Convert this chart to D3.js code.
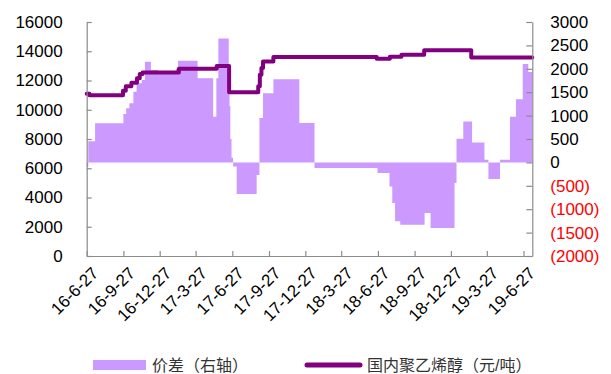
<!DOCTYPE html>
<html>
<head>
<meta charset="utf-8">
<script src="https://cdn.jsdelivr.net/npm/d3@7"></script>
<style>
  body { margin: 0; background: #fff; }
  svg { display: block; }
  text { font-family: "Liberation Sans", Arial, "Noto Sans CJK SC", sans-serif; }
</style>
</head>
<body>
<svg id="chart" width="611" height="374"></svg>
<script>
// Quarterly axis labels (yy-m-d)
const xTickLabels = ["16-6-27", "16-9-27", "16-12-27", "17-3-27", "17-6-27", "17-9-27",
  "17-12-27", "18-3-27", "18-6-27", "18-9-27", "18-12-27", "19-3-27", "19-6-27"];
const leftTicks = [0, 2000, 4000, 6000, 8000, 10000, 12000, 14000, 16000];
const rightTicks = [-2000, -1500, -1000, -500, 0, 500, 1000, 1500, 2000, 2500, 3000];

// 国内聚乙烯醇 (元/吨): price from each date until the next one
const priceDates = ["2016-06-27", "2016-07-04", "2016-09-26", "2016-10-03", "2016-10-17",
  "2016-10-31", "2016-11-07", "2016-11-14", "2017-02-13", "2017-05-19", "2017-06-19",
  "2017-08-31", "2017-09-04", "2017-09-08", "2017-09-12", "2017-10-08", "2018-06-24",
  "2018-07-27", "2018-08-25", "2018-10-21", "2019-02-16", "2019-07-19"];
const priceValues = [11100, 11000, 11300, 11600, 11850, 12150, 12450, 12550, 12800, 13000,
  11200, 11600, 12400, 12850, 13300, 13600, 13490, 13620, 13760, 14060, 13580, 13580];

// 价差 (right axis)
const spreadDates = ["2016-06-27", "2016-07-01", "2016-07-18", "2016-09-27", "2016-10-04",
  "2016-10-12", "2016-10-22", "2016-10-30", "2016-11-12", "2016-11-20", "2016-12-05",
  "2016-12-23", "2017-02-06", "2017-02-11", "2017-04-01", "2017-05-10", "2017-05-18",
  "2017-05-23", "2017-06-18", "2017-06-20", "2017-06-22", "2017-06-25", "2017-06-29",
  "2017-07-08", "2017-08-27", "2017-09-03", "2017-09-12", "2017-10-08", "2017-12-12",
  "2018-01-19", "2018-06-26", "2018-07-26", "2018-08-02", "2018-08-09", "2018-08-22",
  "2018-10-22", "2018-11-06", "2019-01-05", "2019-01-10", "2019-01-27", "2019-02-18",
  "2019-03-21", "2019-03-31", "2019-04-29", "2019-05-24", "2019-06-08", "2019-06-25",
  "2019-07-09", "2019-07-19"];
const spreadValues = [-100, 450, 835, 1035, 1156, 1263, 1510, 1690, 1760, 2150, 1975,
  1900, 2000, 2170, 1800, 975, 1800, 2650, 2000, 1200, 500, 100, -90, -675, -270, 950,
  1477, 1776, 840, -120, -226, -513, -868, -1260, -1330, -1080, -1400, -440, 506, 876,
  427, 58, -355, 58, 977, 1350, 2100, 1930, 1930];

const parseDate = d3.timeParse("%Y-%m-%d");
const parseTick = d3.timeParse("%y-%m-%d");

const price = priceDates.map((d, i) => ({ date: parseDate(d), value: priceValues[i] }));
const spread = spreadDates.map((d, i) => ({ date: parseDate(d), value: spreadValues[i] }));
const tickDates = xTickLabels.map(parseTick);

const svg = d3.select("#chart");
const plot = { left: 86.7, right: 532.3, top: 22, bottom: 256 };

const x = d3.scaleTime()
  .domain([parseDate("2016-06-27"), parseDate("2019-07-19")])
  .range([plot.left, plot.right]);
const yLeft = d3.scaleLinear().domain([0, 16000]).range([plot.bottom, plot.top]);
const yRight = d3.scaleLinear().domain([-2000, 3000]).range([plot.bottom, plot.top]);

const axisColor = "#8c8c8c";

// spread area, filled from the zero line of the right axis
const area = d3.area()
  .curve(d3.curveStepAfter)
  .x(d => x(d.date))
  .y0(yRight(0))
  .y1(d => yRight(d.value));

svg.append("path")
  .datum(spread)
  .attr("fill", "#cc99ff")
  .attr("d", area);

// price line
const line = d3.line()
  .curve(d3.curveStepAfter)
  .x(d => x(d.date))
  .y(d => yLeft(d.value));

svg.append("path")
  .datum(price)
  .attr("fill", "none")
  .attr("stroke", "#800080")
  .attr("stroke-width", 4)
  .attr("stroke-linejoin", "round")
  .attr("stroke-linecap", "round")
  .attr("d", line);

function styleAxis(g) {
  g.selectAll(".domain").attr("stroke", axisColor).attr("stroke-width", 1.2);
  g.selectAll(".tick line").attr("stroke", axisColor).attr("stroke-width", 1.2);
  g.selectAll("text").attr("fill", "#000").attr("font-size", 17);
}

// left axis
svg.append("g")
  .attr("transform", `translate(${plot.left},0)`)
  .call(d3.axisLeft(yLeft).tickValues(leftTicks).tickSizeInner(-5).tickSizeOuter(0)
    .tickPadding(24).tickFormat(d3.format("d")))
  .call(styleAxis);

// right axis, negatives in red brackets
const gRight = svg.append("g")
  .attr("transform", `translate(${plot.right},0)`)
  .call(d3.axisRight(yRight).tickValues(rightTicks).tickSizeInner(-6).tickSizeOuter(0)
    .tickPadding(18).tickFormat(v => v < 0 ? `(${-v})` : `${v}`))
  .call(styleAxis);
gRight.selectAll("text").attr("fill", d => d < 0 ? "#ff0000" : "#000");

// bottom axis with slanted date labels
const gBottom = svg.append("g")
  .attr("transform", `translate(0,${plot.bottom})`)
  .call(d3.axisBottom(x).tickValues(tickDates).tickSizeInner(-5).tickSizeOuter(0)
    .tickFormat((d, i) => xTickLabels[i]))
  .call(styleAxis);
gBottom.selectAll(".tick text")
  .attr("text-anchor", "end")
  .attr("dy", "0.35em")
  .attr("x", 0)
  .attr("y", 0)
  .attr("transform", "translate(8,14) rotate(-45)");

// legend
const legend = svg.append("g");
legend.append("rect")
  .attr("x", 93).attr("y", 360).attr("width", 53).attr("height", 10)
  .attr("fill", "#cc99ff");
legend.append("text")
  .attr("x", 152).attr("y", 365).attr("dy", "0.35em")
  .attr("font-size", 16).attr("fill", "#333")
  .text("价差（右轴）");
legend.append("line")
  .attr("x1", 307).attr("x2", 360).attr("y1", 365).attr("y2", 365)
  .attr("stroke", "#800080").attr("stroke-width", 5).attr("stroke-linecap", "round");
legend.append("text")
  .attr("x", 367).attr("y", 365).attr("dy", "0.35em")
  .attr("font-size", 16).attr("fill", "#333")
  .text("国内聚乙烯醇（元/吨）");
</script>
</body>
</html>
